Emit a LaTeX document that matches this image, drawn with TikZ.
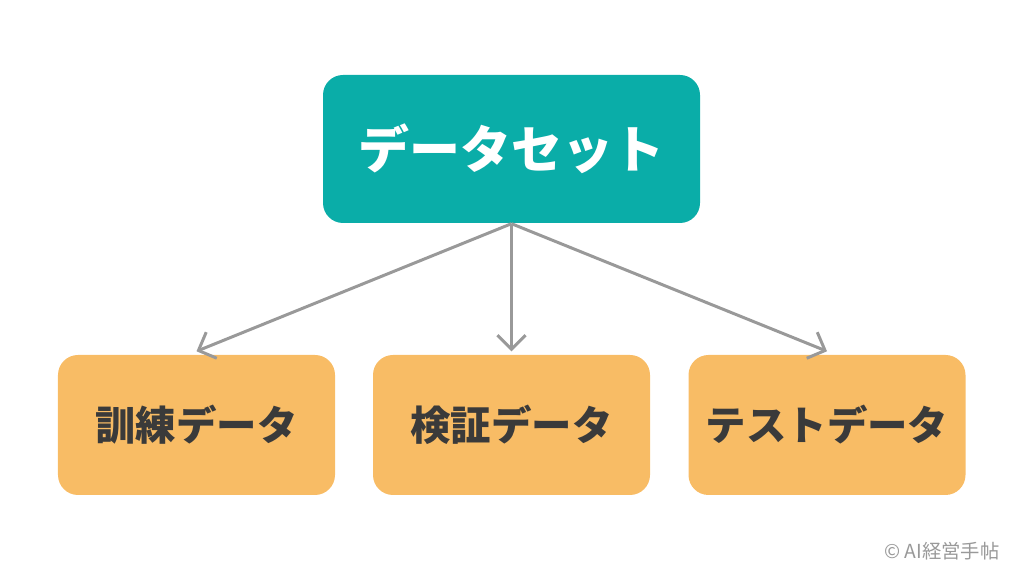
\documentclass[tikz,border=0pt]{standalone}
\usepackage{fontspec}
\newfontfamily\cjk{Noto Sans CJK JP}
\usetikzlibrary{arrows.meta,positioning}
\definecolor{teal0}{HTML}{0AADA8}
\definecolor{orange0}{HTML}{F8BC65}
\definecolor{gray0}{HTML}{999999}
\definecolor{ink}{HTML}{3A3A3A}
\tikzset{
  topbox/.style={rounded corners=0.2cm,fill=teal0,minimum width=3.77cm,minimum height=1.48cm,text=white,font=\cjk\bfseries\fontsize{14.5}{16}\selectfont},
  subbox/.style={rounded corners=0.2cm,fill=orange0,minimum width=2.77cm,minimum height=1.40cm,text=ink,font=\cjk\bfseries\fontsize{11.5}{13}\selectfont},
  link/.style={draw=gray0,line width=0.85pt,-{Straight Barb[length=4pt,width=8pt]}}
}
\begin{document}
\begin{tikzpicture}
  \useasboundingbox (0,0) rectangle (10.24,5.72);
  \node[topbox] (data) at (5.115,4.23) {データセット};
  \node[subbox] (train) at (1.965,1.47) {訓練データ};
  \node[subbox] (valid) at (5.115,1.47) {検証データ};
  \node[subbox] (test) at (8.27,1.47) {テストデータ};
  \foreach \n in {train,valid,test}
    \draw[link] (data.south) -- ([yshift=0.03cm]\n.north);
  \node[anchor=east,text=gray0,font=\cjk\fontsize{5.5}{6}\selectfont] (credit) at (10.12,0.21) {© AI経営手帖};
\end{tikzpicture}
\end{document}
